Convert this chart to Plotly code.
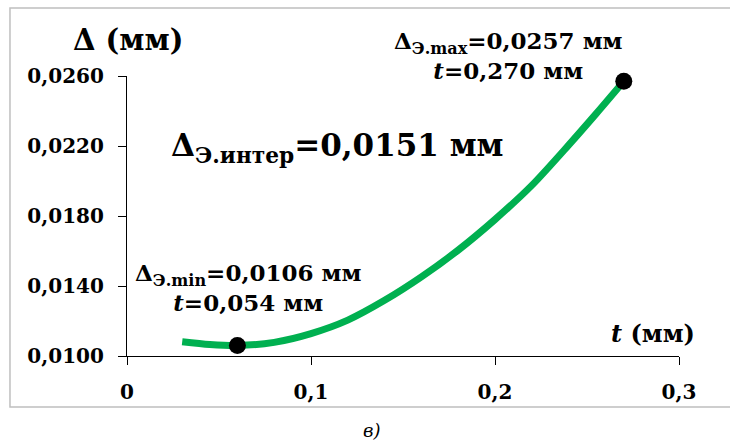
import plotly.graph_objects as go

# Curve data
t_vals = [0.030, 0.045, 0.060, 0.080, 0.100, 0.120, 0.140, 0.160, 0.180, 0.200, 0.220, 0.240, 0.255, 0.270]
d_vals = [0.01082, 0.01066, 0.01060, 0.01078, 0.01128, 0.01205, 0.01318, 0.01452, 0.01605, 0.01780, 0.01975, 0.02205, 0.02385, 0.02570]

# Marked extreme points
mark_t = [0.060, 0.270]
mark_d = [0.0106, 0.0257]

x_tickvals = [0, 0.1, 0.2, 0.3]
x_ticktext = ["0", "0,1", "0,2", "0,3"]
y_tickvals = [0.0100, 0.0140, 0.0180, 0.0220, 0.0260]
y_ticktext = ["0,0100", "0,0140", "0,0180", "0,0220", "0,0260"]

FONT = "DejaVu Serif"

fig = go.Figure()
fig.add_trace(go.Scatter(
    x=t_vals, y=d_vals, mode="lines",
    line=dict(color="#00B050", width=7, shape="spline", smoothing=0.8),
    hoverinfo="skip", cliponaxis=False,
))
fig.add_trace(go.Scatter(
    x=mark_t, y=mark_d, mode="markers",
    marker=dict(color="black", size=17),
    hoverinfo="skip", cliponaxis=False,
))

fig.update_layout(
    width=730, height=440,
    margin=dict(l=127, r=51, t=76, b=84),
    paper_bgcolor="white", plot_bgcolor="white",
    showlegend=False,
    font=dict(family=FONT, color="black"),
)
fig.update_xaxes(
    range=[0, 0.3], tickvals=x_tickvals, ticktext=x_ticktext,
    showline=True, linecolor="black", linewidth=1.2,
    ticks="outside", ticklen=8, tickcolor="black", tickwidth=1.2,
    showgrid=False, zeroline=False,
    tickfont=dict(family=FONT, size=20, weight="bold"),
    ticklabelstandoff=10,
)
fig.update_yaxes(
    range=[0.0100, 0.0260], tickvals=y_tickvals, ticktext=y_ticktext,
    showline=True, linecolor="black", linewidth=1.2,
    ticks="outside", ticklen=8, tickcolor="black", tickwidth=1.2,
    showgrid=False, zeroline=False,
    tickfont=dict(family=FONT, size=20, weight="bold"),
    ticklabelstandoff=10,
)

fig.add_shape(type="rect", xref="paper", yref="paper",
              x0=-0.212, x1=1.11, y0=-0.182, y1=1.243,
              line=dict(color="#BFBFBF", width=1.5), fillcolor="rgba(0,0,0,0)", layer="below")

ann = [
    dict(x=0.0027, y=1.1286, text="<b>Δ (мм)</b>", size=29),
    dict(x=0.6911, y=1.075, text="<b>Δ<sub>Э.max</sub>=0,0257 мм<br><i>t</i>=0,270 мм</b>", size=23),
    dict(x=0.2201, y=0.2464, text="<b>Δ<sub>Э.min</sub>=0,0106 мм<br><i>t</i>=0,054 мм</b>", size=23),
    dict(x=0.3813, y=0.7446, text="<b>Δ<sub>Э.интер</sub>=0,0151 мм</b>", size=31),
    dict(x=0.9529, y=0.0821, text="<b><i>t</i> (мм)</b>", size=24),
    dict(x=0.4438, y=-0.2643, text="<i>в)</i>", size=18),
]
for a in ann:
    fig.add_annotation(x=a["x"], y=a["y"], xref="paper", yref="paper", text=a["text"],
                       showarrow=False, xanchor="center", yanchor="middle",
                       font=dict(family=FONT, size=a["size"], color="black"))

fig.write_html("out.html", config={"displayModeBar": False},
               post_script="document.body.style.margin='0';")
